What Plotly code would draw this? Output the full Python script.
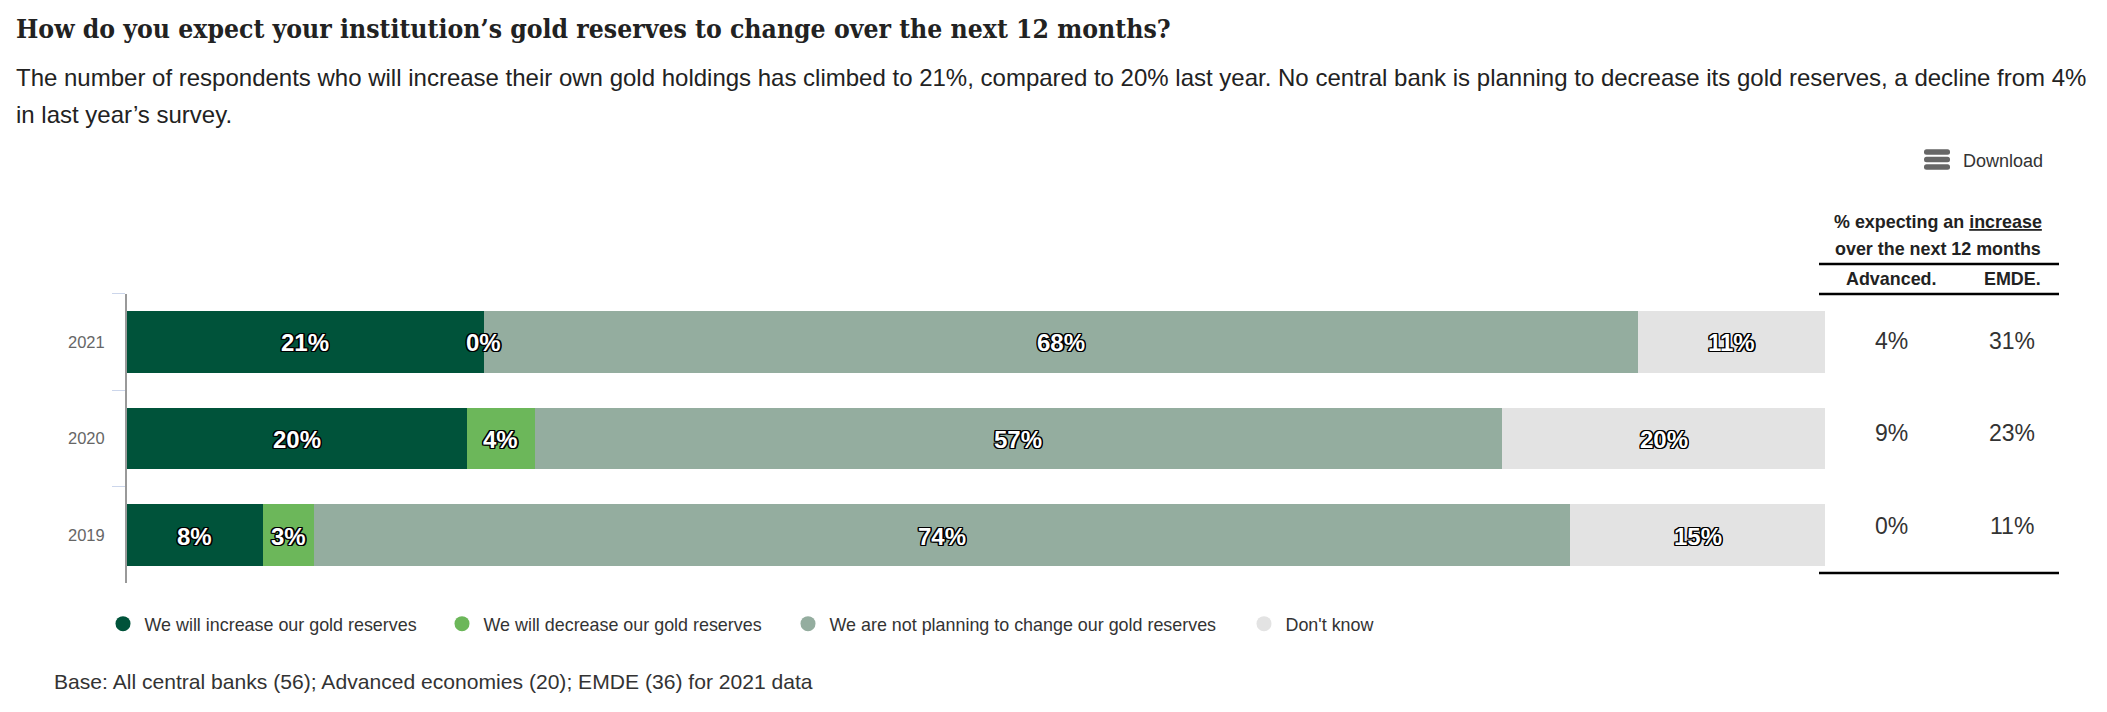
import plotly.graph_objects as go

W, H = 2091, 696  # page adds an 8px body margin


# pixel position in the page -> paper coords
def px(x):
    return (x - 8) / W


def py(y):
    return 1 - (y - 8) / H


years = ["2021", "2020", "2019"]
series_names = [
    "We will increase our gold reserves",
    "We will decrease our gold reserves",
    "We are not planning to change our gold reserves",
    "Don't know",
]
colors = ["#00533a", "#6cb75a", "#94ad9f", "#e3e3e3"]
increase = [21, 20, 8]
decrease = [0, 4, 3]
no_change = [68, 57, 74]
dont_know = [11, 19, 15]
# printed labels (the 2020 grey segment is drawn narrower than its label says)
label_increase = ["21%", "20%", "8%"]
label_decrease = ["0%", "4%", "3%"]
label_no_change = ["68%", "57%", "74%"]
label_dont_know = ["11%", "20%", "15%"]
advanced = ["4%", "9%", "0%"]
emde = ["31%", "23%", "11%"]

OUTLINE = ", ".join(
    f"{dx}px {dy}px 0 #000"
    for dx, dy in [(-1.3, -1.3), (1.3, -1.3), (-1.3, 1.3), (1.3, 1.3),
                   (-1.3, 0), (1.3, 0), (0, -1.3), (0, 1.3)]
)

fig = go.Figure()
notes = []

values = [increase, decrease, no_change, dont_know]
labels = [label_increase, label_decrease, label_no_change, label_dont_know]
base = [0, 0, 0]
for name, vals, labs, col in zip(series_names, values, labels, colors):
    fig.add_trace(go.Bar(y=years, x=vals, name=name, orientation="h", showlegend=False,
                         marker=dict(color=col, line_width=0), hoverinfo="skip"))
    # data labels as annotations, plotly drops bar text on zero width bars
    # y is the category index here, "2021" as a string would be read as a position
    for i in range(3):
        notes.append(dict(text=labs[i], x=base[i] + vals[i] / 2, y=i, xref="x", yref="y",
                          showarrow=False, yshift=-1,
                          font=dict(family="Liberation Sans", size=24, color="#ffffff",
                                    weight="bold", shadow=OUTLINE)))
        base[i] += vals[i]

# round legend markers, one legend per entry so the gaps can follow the original
legend_ids = ["legend", "legend2", "legend3", "legend4"]
legend_left = [101.5, 440.5, 786.5, 1242.5]
legends = {}
for name, col, lid, left in zip(series_names, colors, legend_ids, legend_left):
    fig.add_trace(go.Scatter(x=[None], y=[None], mode="markers", name=name, legend=lid,
                             marker=dict(color=col, size=15, symbol="circle")))
    legends[lid] = dict(orientation="h", x=px(left), y=py(624), xanchor="left", yanchor="middle",
                        itemwidth=33, font=dict(family="Liberation Sans", size=17.9, color="#333333"),
                        bgcolor="rgba(0,0,0,0)", itemclick=False, itemdoubleclick=False)


def note(text, x, y, size, color="#333333", anchor="left", bold=False, family="Liberation Sans"):
    notes.append(dict(text=text, x=px(x), y=py(y), xref="paper", yref="paper", xanchor=anchor,
                      yanchor="middle", showarrow=False, align=anchor,
                      font=dict(family=family, size=size, color=color,
                                weight="bold" if bold else "normal")))


note("How do you expect your institution’s gold reserves to change over the next 12 months?",
     14, 29, 26.3, color="#222222", bold=True, family="DejaVu Serif Condensed")
note("The number of respondents who will increase their own gold holdings has climbed to 21%, "
     "compared to 20% last year. No central bank is planning to decrease its gold reserves, "
     "a decline from 4%", 14, 78, 24, color="#222222")
note("in last year’s survey.", 14, 114, 24, color="#222222")
note("Download", 1960.5, 161, 18, anchor="left")
note('% expecting an <span style="text-decoration:underline">increase</span>',
     1938, 222, 17.9, color="#222222", anchor="center", bold=True)
note("over the next 12 months", 1938, 249, 17.9, color="#222222", anchor="center", bold=True)
note("Advanced.", 1891, 279, 17.9, color="#222222", anchor="center", bold=True)
note("EMDE.", 2012, 279, 17.9, color="#222222", anchor="center", bold=True)
for val_a, val_e, y in zip(advanced, emde, [341, 433, 526]):
    note(val_a, 1891, y, 23, anchor="center")
    note(val_e, 2012, y, 23, anchor="center")
note("Base: All central banks (56); Advanced economies (20); EMDE (36) for 2021 data",
     51.5, 681, 21.1, color="#333333")

shapes = []
for y in [264, 294, 573]:
    shapes.append(dict(type="line", xref="paper", yref="paper", x0=px(1819), x1=px(2059),
                       y0=py(y), y1=py(y), line=dict(color="#000000", width=2.5)))
# hamburger icon of the download button, bars with rounded ends
for y in [152, 159.5, 167]:
    x0, x1, t, b = px(1924), px(1950), py(y - 2.8), py(y + 2.8)
    rx, ry = 2.5 / W, 2.5 / H
    path = (f"M {x0 + rx} {t} L {x1 - rx} {t} Q {x1} {t} {x1} {t - ry} L {x1} {b + ry} "
            f"Q {x1} {b} {x1 - rx} {b} L {x0 + rx} {b} Q {x0} {b} {x0} {b + ry} "
            f"L {x0} {t - ry} Q {x0} {t} {x0 + rx} {t} Z")
    shapes.append(dict(type="path", xref="paper", yref="paper", path=path,
                       fillcolor="#666666", line_width=0))

fig.update_layout(
    width=W, height=H,
    margin=dict(l=0, r=0, t=0, b=0, autoexpand=False),
    paper_bgcolor="#ffffff", plot_bgcolor="#ffffff",
    barmode="stack", bargap=0.365,
    annotations=notes, shapes=shapes,
    xaxis=dict(domain=[px(127), px(1825)], range=[0, 100], visible=False, fixedrange=True),
    yaxis=dict(domain=[py(583.4), py(293.5)], type="category", categoryorder="array",
               categoryarray=years, range=[2.5, -0.5], tickson="boundaries", ticks="outside",
               ticklen=13, tickcolor="#ccd6eb", tickwidth=1, showgrid=False, zeroline=False,
               ticklabelstandoff=17,
               showline=True, linecolor="#999999", linewidth=2, fixedrange=True,
               tickfont=dict(family="Liberation Sans", size=16.5, color="#666666")),
    **legends,
)

fig.write_html("out.html")
